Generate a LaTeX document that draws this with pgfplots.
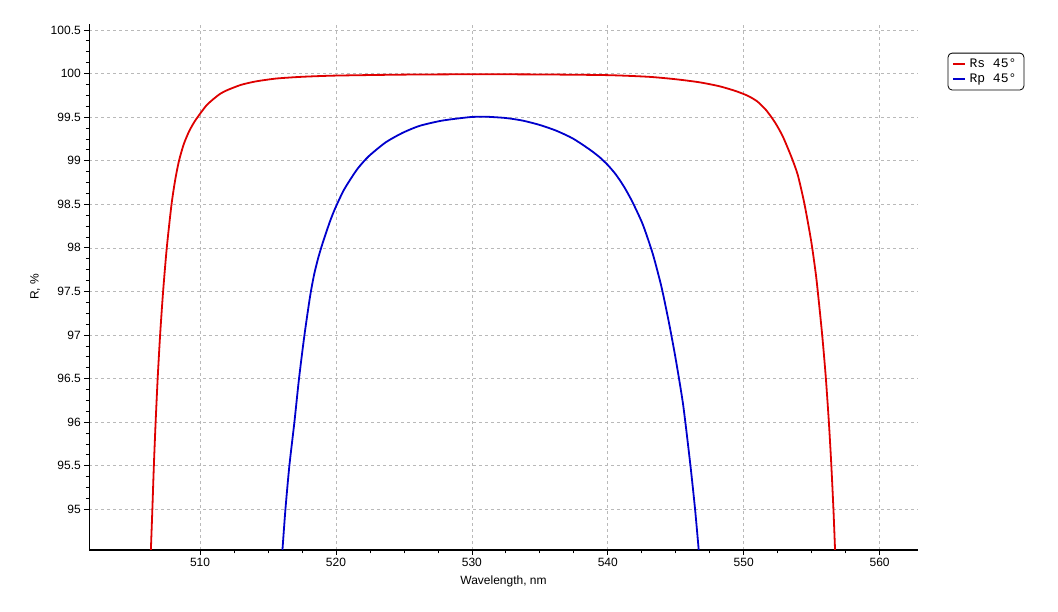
\documentclass[border=0pt]{standalone}
\usepackage{fontspec}
\setmainfont{Liberation Sans}
\setmonofont{Liberation Mono}
\usepackage{pgfplots}
\pgfplotsset{compat=1.18}
\definecolor{rsred}{RGB}{222,0,0}
\definecolor{rpblue}{RGB}{0,0,204}
\definecolor{gridgray}{RGB}{185,185,185}
\begin{document}
\begin{tikzpicture}
\useasboundingbox (0,0) rectangle (1058bp,612bp);
\begin{axis}[
  at={(89.3bp,62bp)}, anchor=south west,
  width=828.4bp, height=526bp, scale only axis,
  xmin=501.85, xmax=562.8, ymin=94.533, ymax=100.569,
  axis lines*=left, axis line style={line width=1.2bp, -},
  xtick={510,520,530,540,550,560},
  ytick={95,95.5,96,96.5,97,97.5,98,98.5,99,99.5,100,100.5},
  minor x tick num=3, minor y tick num=3,
  tick align=outside, major tick length=5bp, minor tick length=3.5bp,
  tick style={black, line width=0.8bp},
  grid=major, grid style={gridgray, dash pattern=on 3bp off 3bp, line width=0.7bp},
  /pgf/number format/assume math mode=true,
  /pgf/number format/fixed, /pgf/number format/precision=1,
  tick label style={font=\fontsize{12bp}{14bp}\selectfont},
  label style={font=\fontsize{12bp}{14bp}\selectfont},
  xlabel={Wavelength, nm},
  ylabel={R, \%},
  xlabel style={at={(axis description cs:0.5,-0.0603)}, anchor=center},
  ylabel style={at={(axis description cs:-0.0652,0.5)}, anchor=center},
  legend style={at={(rel axis cs:1.0362,0.9454)}, anchor=north west,
    draw=black, rounded corners=4bp, line width=0.8bp,
    font=\ttfamily\fontsize{13bp}{15bp}\selectfont,
    inner xsep=4bp, inner ysep=3.5bp, row sep=1.5bp,
    nodes={inner xsep=3.5bp, inner ysep=2bp}},
  legend cell align=left,
  legend image code/.code={\draw[#1, line width=2bp] (0bp,0bp) -- (12bp,0bp);},
]
\addplot[rsred, line width=1.8bp, smooth, tension=0.4] coordinates {
(506.38,94.53) (506.49,95.00) (506.60,95.50) (506.73,96.00) (506.88,96.50)
(507.06,97.00) (507.28,97.50) (507.55,98.00) (507.90,98.50) (508.17,98.78)
(508.45,99.00) (508.80,99.19) (509.20,99.34) (509.60,99.45) (510.05,99.55)
(510.50,99.64) (511.00,99.71) (511.50,99.77) (512.00,99.81) (513.00,99.87)
(514.10,99.91) (515.60,99.943) (517.50,99.963) (520.00,99.977) (525.00,99.988)
(530.00,99.992) (535.00,99.99) (540.00,99.982) (543.00,99.963) (545.00,99.935)
(546.74,99.90) (548.20,99.855) (549.40,99.80) (550.30,99.745) (551.00,99.68)
(551.65,99.58) (552.30,99.44) (552.87,99.28) (553.49,99.05) (553.97,98.84)
(554.46,98.51) (554.96,98.08) (555.32,97.68) (555.58,97.30) (555.79,96.97)
(556.03,96.53) (556.26,96.01) (556.44,95.52) (556.60,95.00) (556.72,94.53)
};
\addlegendentry{Rs 45°}
\addplot[rpblue, line width=1.8bp, smooth, tension=0.4] coordinates {
(516.06,94.53) (516.28,95.00) (516.57,95.50) (516.94,96.00) (517.28,96.50)
(517.68,97.00) (518.10,97.45) (518.40,97.70) (518.72,97.90) (519.05,98.07)
(519.55,98.30) (519.93,98.45) (520.60,98.67) (521.55,98.90) (522.40,99.05)
(523.65,99.21) (524.90,99.32) (526.15,99.40) (527.80,99.46) (529.83,99.50)
(531.00,99.505) (532.50,99.49) (533.75,99.46) (535.00,99.41) (536.20,99.345)
(537.43,99.255) (538.65,99.13) (539.40,99.04) (540.00,98.95) (540.60,98.84)
(541.20,98.70) (541.80,98.53) (542.57,98.27) (543.31,97.93) (543.95,97.55)
(544.50,97.14) (545.00,96.72) (545.55,96.19) (546.08,95.50) (546.42,95.00)
(546.69,94.53)
};
\addlegendentry{Rp 45°}
\end{axis}
\end{tikzpicture}
\end{document}
